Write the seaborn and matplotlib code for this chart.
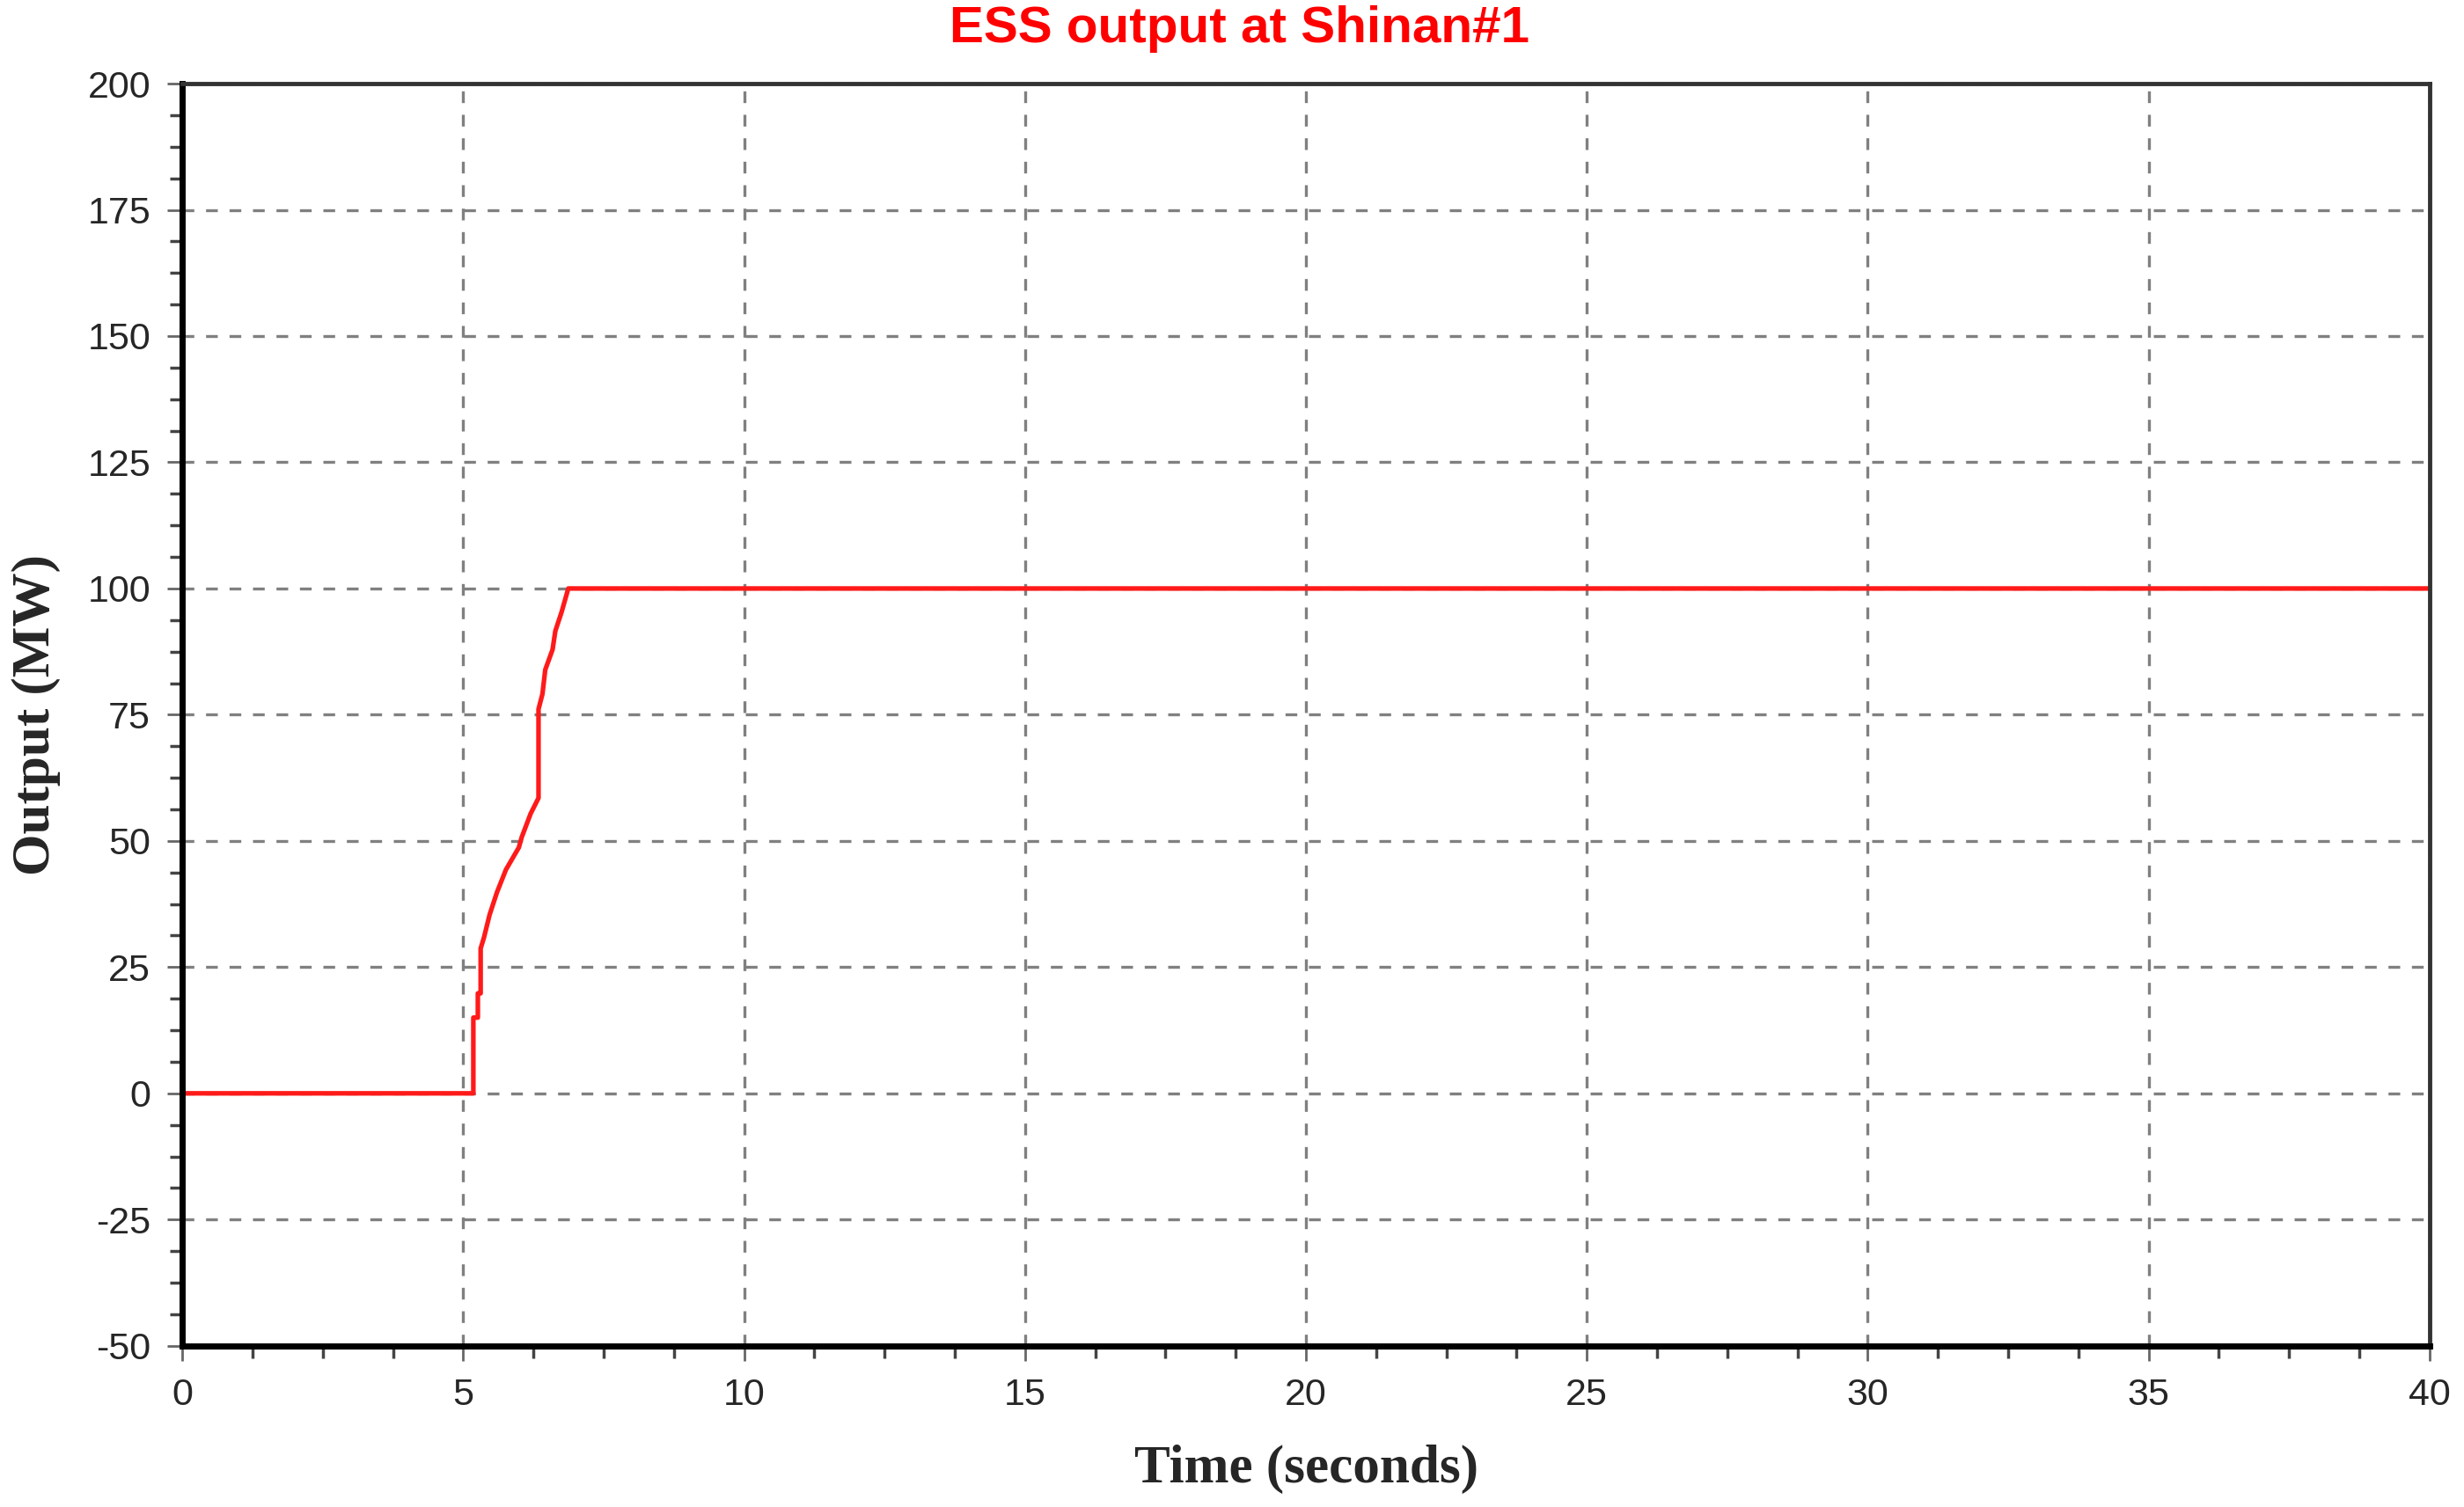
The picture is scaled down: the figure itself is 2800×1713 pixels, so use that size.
import numpy as np
import pandas as pd
import matplotlib
matplotlib.use('Agg')
import matplotlib.pyplot as plt
import seaborn as sns
from matplotlib.ticker import MultipleLocator

# datos (tiempo en s, potencia en MW)
tiempo = [0.0, 5.05, 5.18, 5.18, 5.26, 5.26, 5.31, 5.31, 5.37, 5.47, 5.60, 5.76,
          5.99, 6.04, 6.20, 6.34, 6.34, 6.41, 6.46, 6.59, 6.64, 6.75, 6.87, 40.0]
potencia = [0.0, 0.0, 0.0, 15.0, 15.0, 19.8, 19.8, 28.7, 30.9, 35.4, 39.8, 44.3,
            48.7, 50.7, 55.4, 58.5, 76.1, 79.1, 83.9, 87.9, 91.6, 95.3, 100.0, 100.0]

xticks = [0, 5, 10, 15, 20, 25, 30, 35, 40]
yticks = [-50, -25, 0, 25, 50, 75, 100, 125, 150, 175, 200]

df = pd.DataFrame({'t': tiempo, 'p': potencia})

sns.set_style('white')

fig = plt.figure(figsize=(28, 17.13), dpi=100)
ax = fig.add_axes([0.074, 0.107, 0.912, 0.8375])

sns.lineplot(data=df, x='t', y='p', ax=ax, color='#ff1a1a', linewidth=3.8,
             sort=False, estimator=None)

ax.set_xlim(0, 40)
ax.set_ylim(-50, 200)
ax.set_xticks(xticks)
ax.set_yticks(yticks)
ax.set_xticklabels([str(v) for v in xticks], family='Liberation Sans', fontsize=31)
ax.set_yticklabels([str(v) for v in yticks], family='Liberation Sans', fontsize=31)
ax.xaxis.set_minor_locator(MultipleLocator(1.25))
ax.yaxis.set_minor_locator(MultipleLocator(6.25))
ax.tick_params(which='both', bottom=True, left=True, top=False, right=False)
ax.tick_params(which='major', direction='out', length=12, width=2, color='#666666', pad=14)
ax.tick_params(which='minor', direction='out', length=10, width=2.5, color='#444444')

ax.grid(True, which='major', linestyle=(0, (4, 4)), color='#808080', linewidth=2.4)

for s in ['left', 'bottom']:
    ax.spines[s].set_color('black')
    ax.spines[s].set_linewidth(5)
for s in ['top', 'right']:
    ax.spines[s].set_color('#333333')
    ax.spines[s].set_linewidth(3.5)

ax.set_xlabel('Time (seconds)', family='Liberation Serif', fontweight='bold',
              fontsize=44, labelpad=26)
ax.set_ylabel('Output (MW)', family='Liberation Serif', fontweight='bold',
              fontsize=44, labelpad=22)

fig.text(0.503, 0.981, 'ESS output at Shinan#1', color='#ff0000', family='Liberation Sans',
         fontweight='bold', fontsize=42, ha='center', va='center')

fig.savefig('out.png', dpi=100, facecolor='white')
plt.close()
